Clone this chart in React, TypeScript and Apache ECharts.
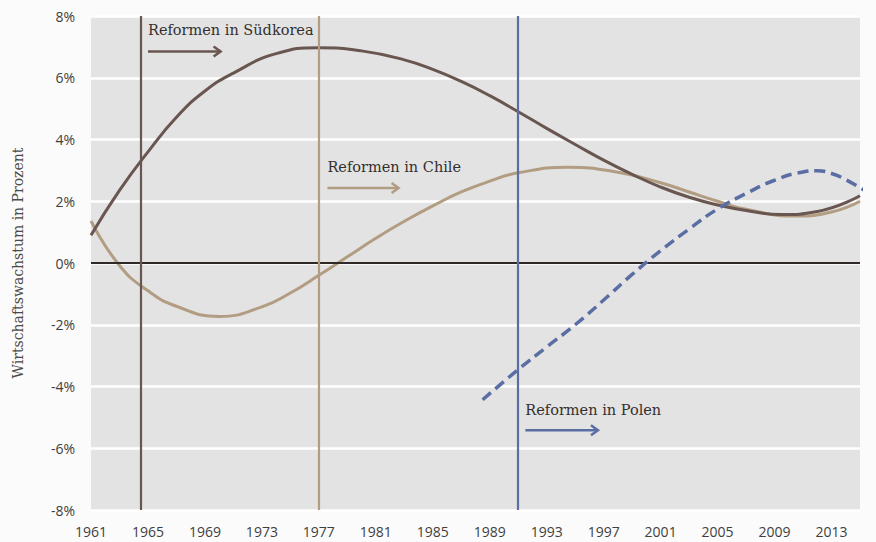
import React, { useEffect, useRef } from "react";
import * as echarts from "echarts";

const koreaYears = [1961, 1963, 1965, 1967, 1969, 1971, 1974, 1977, 1980, 1983, 1985, 1987, 1989, 1991, 1993, 1995, 1997, 1999, 2001, 2003, 2005, 2007, 2009.5, 2012, 2015];
const koreaValues = [0.9, 2.35, 3.6, 4.72, 5.57, 6.15, 6.78, 6.97, 6.87, 6.58, 6.27, 5.88, 5.42, 4.9, 4.36, 3.84, 3.33, 2.87, 2.46, 2.13, 1.88, 1.7, 1.57, 1.67, 2.18];
const chileYears = [1961, 1963, 1965, 1967, 1970, 1973, 1975, 1977, 1979, 1981, 1983, 1985, 1987, 1989, 1991, 1994.5, 1998, 2001, 2003, 2005, 2007, 2010.5, 2013, 2015];
const chileValues = [1.36, -0.08, -0.9, -1.4, -1.73, -1.42, -0.97, -0.4, 0.2, 0.8, 1.35, 1.85, 2.3, 2.65, 2.92, 3.1, 2.94, 2.6, 2.3, 2.0, 1.74, 1.52, 1.65, 2.0];
const polandYears = [1988.5, 1991, 1993, 1995, 1997, 1999, 2001, 2003, 2005, 2007, 2009, 2011, 2012, 2013, 2014, 2015.5];
const polandValues = [-4.43, -3.45, -2.72, -2.0, -1.2, -0.37, 0.4, 1.1, 1.75, 2.25, 2.68, 2.95, 2.99, 2.9, 2.7, 2.3];

const reformYears = [1964.5, 1977, 1991];
const annotationTexts = ["Reformen in Südkorea", "Reformen in Chile", "Reformen in Polen"];
const annotationTextX = [1965, 1977.6, 1991.5];
const annotationTextY = [7.55, 3.1, -4.77];
const arrowStartX = [1965, 1977.6, 1991.5];
const arrowEndX = [1970.1, 1982.6, 1996.6];
const arrowY = [6.85, 2.43, -5.42];

const yTicks = { min: -8, max: 8, interval: 2 };
const xTicks = { min: 1961, max: 2015, interval: 4 };

const KOREA = "#6a5650";
const CHILE = "#b29d82";
const POLAND = "#5b6ea4";
const colors = [KOREA, CHILE, POLAND];

export default function App() {
  const ref = useRef<HTMLDivElement>(null);
  useEffect(() => {
    if (!ref.current) return;
    const chart = echarts.init(ref.current, null, { renderer: "svg" });
    chart.setOption({
      animation: false,
      backgroundColor: "#fbfbfb",
      grid: {
        left: 91,
        right: 16,
        top: 16,
        bottom: 32,
        show: true,
        backgroundColor: "#e3e3e3",
        borderWidth: 0,
      },
      xAxis: {
        type: "value",
        min: xTicks.min,
        max: xTicks.max,
        interval: xTicks.interval,
        axisLine: { show: false },
        axisTick: { show: false },
        splitLine: { show: false },
        axisLabel: {
          showMaxLabel: false,
          margin: 14,
          color: "#3f3f3f",
          fontFamily: "Open Sans",
          fontSize: 14,
          formatter: (v: number) => String(v),
        },
      },
      yAxis: {
        type: "value",
        min: yTicks.min,
        max: yTicks.max,
        interval: yTicks.interval,
        name: "Wirtschaftswachstum in Prozent",
        nameLocation: "middle",
        nameGap: 66,
        nameTextStyle: { fontFamily: "DejaVu Serif", fontSize: 14, color: "#4a4a4a" },
        axisLine: { show: false },
        axisTick: { show: false },
        splitLine: { show: true, lineStyle: { color: "#ffffff", width: 2.5 } },
        axisLabel: {
          margin: 16,
          color: "#3f3f3f",
          fontFamily: "Open Sans",
          fontSize: 14,
          formatter: "{value}%",
        },
      },
      series: [
        {
          type: "line",
          name: "Chile",
          data: chileYears.map((y, i) => [y, chileValues[i]]),
          smooth: true,
          showSymbol: false,
          lineStyle: { color: CHILE, width: 3 },
          z: 3,
          markLine: {
            silent: true,
            symbol: "none",
            label: { show: false },
            data: [
              { yAxis: 0, lineStyle: { color: "#2f2a28", width: 2, type: "solid" } },
              ...reformYears.map((yr, i) => ({ xAxis: yr, lineStyle: { color: colors[i], width: 2.2, type: "solid" } })),
            ],
          },
        },
        {
          type: "line",
          name: "Südkorea",
          data: koreaYears.map((y, i) => [y, koreaValues[i]]),
          smooth: true,
          showSymbol: false,
          lineStyle: { color: KOREA, width: 3 },
          z: 4,
        },
        {
          type: "line",
          name: "Polen",
          data: polandYears.map((y, i) => [y, polandValues[i]]),
          smooth: true,
          showSymbol: false,
          clip: false,
          lineStyle: { color: POLAND, width: 3.5, type: [11, 6] },
          z: 5,
        },
      ],
    });

    const graphics: any[] = [];
    annotationTexts.forEach((t, i) => {
      const tp = chart.convertToPixel({ gridIndex: 0 }, [annotationTextX[i], annotationTextY[i]]) as number[];
      const a0 = chart.convertToPixel({ gridIndex: 0 }, [arrowStartX[i], arrowY[i]]) as number[];
      const a1 = chart.convertToPixel({ gridIndex: 0 }, [arrowEndX[i], arrowY[i]]) as number[];
      graphics.push({
        type: "text",
        x: tp[0],
        y: tp[1],
        z: 10,
        style: {
          text: t,
          fill: "#34302e",
          font: "14.5px 'DejaVu Serif'",
          textVerticalAlign: "middle",
          textAlign: "left",
        },
      });
      graphics.push({
        type: "line",
        z: 10,
        shape: { x1: a0[0], y1: a0[1], x2: a1[0] - 1, y2: a1[1] },
        style: { stroke: colors[i], lineWidth: 2.5 },
      });
      graphics.push({
        type: "polyline",
        z: 10,
        shape: { points: [[a1[0] - 7, a1[1] - 5], [a1[0], a1[1]], [a1[0] - 7, a1[1] + 5]] },
        style: { stroke: colors[i], lineWidth: 2.5, fill: "none" },
      });
    });
    chart.setOption({ graphic: graphics });

    return () => chart.dispose();
  }, []);
  return (
    <div
      ref={ref}
      style={{ position: "fixed", left: 0, top: 0, width: 876, height: 542 }}
    />
  );
}
